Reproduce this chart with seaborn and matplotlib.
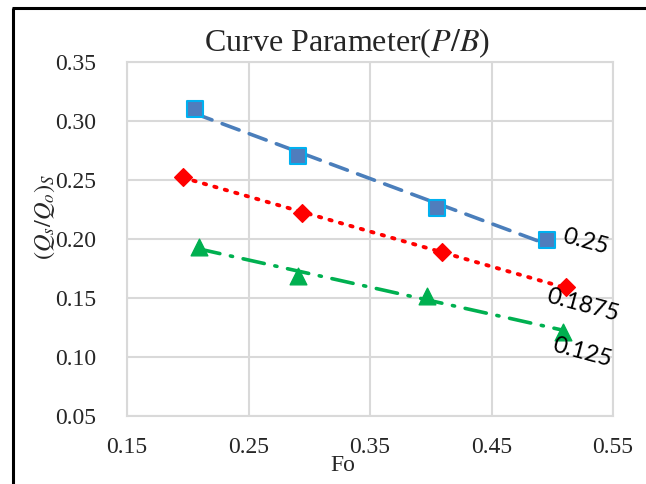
import numpy as np
import pandas as pd
import matplotlib
matplotlib.use("Agg")
import matplotlib.pyplot as plt
import seaborn as sns
from matplotlib.lines import Line2D

# Curve parameter P/B for each series
series_labels = ["0.25", "0.1875", "0.125"]

# Fo values and (Qs/Qo)_S values for each series
fo_025 = [0.206, 0.291, 0.405, 0.496]
q_025 = [0.310, 0.270, 0.2265, 0.199]

fo_01875 = [0.196, 0.294, 0.409, 0.511]
q_01875 = [0.2528, 0.2218, 0.1887, 0.159]

fo_0125 = [0.209, 0.291, 0.397, 0.509]
q_0125 = [0.193, 0.169, 0.152, 0.1214]

x_ticks = [0.15, 0.25, 0.35, 0.45, 0.55]
y_ticks = [0.05, 0.10, 0.15, 0.20, 0.25, 0.30, 0.35]

sns.set_style("white")
plt.rcParams["font.family"] = ["Liberation Serif", "DejaVu Serif"]
plt.rcParams["mathtext.fontset"] = "stix"

frames = []
for lab, xs, ys in [("0.25", fo_025, q_025),
                    ("0.1875", fo_01875, q_01875),
                    ("0.125", fo_0125, q_0125)]:
    frames.append(pd.DataFrame({"Fo": xs, "Q": ys, "PB": lab}))
df = pd.concat(frames, ignore_index=True)

styles = {
    "0.25": dict(color="#4a7ebb", marker="s", mfc="#4f7dbd", mec="#00b0f0",
                 ls=(0, (5, 3)), lw=2.6, ms=12, mew=1.5),
    "0.1875": dict(color="#ff0000", marker="D", mfc="#ff0000", mec="#ff0000",
                   ls=(0, (0.6, 2.2)), lw=2.8, ms=9, mew=1.0),
    "0.125": dict(color="#00b050", marker="^", mfc="#00b050", mec="#00b050",
                  ls=(0, (6, 3, 0.6, 3)), lw=2.6, ms=12, mew=1.0),
}
text_pos = {"0.25": (0.527, 0.198), "0.1875": (0.525, 0.144), "0.125": (0.5245, 0.1035)}

fig = plt.figure(figsize=(6.46, 4.84), dpi=100)
ax = fig.add_axes([0.1966, 0.1405, 0.7524, 0.7315])

for lab in series_labels:
    sub = df[df["PB"] == lab]
    st = styles[lab]
    # linear trend line across the data range
    k, b = np.polyfit(sub["Fo"], sub["Q"], 1)
    xs = np.array([sub["Fo"].min(), sub["Fo"].max()])
    trend = pd.DataFrame({"Fo": xs, "Q": k * xs + b})
    sns.lineplot(data=trend, x="Fo", y="Q", ax=ax, color=st["color"],
                 linewidth=st["lw"], linestyle=st["ls"], zorder=2)
    ax.lines[-1].set_dash_capstyle("round")
    sns.scatterplot(data=sub, x="Fo", y="Q", ax=ax, marker=st["marker"],
                    s=st["ms"] ** 2, color=st["mfc"], edgecolor=st["mec"],
                    linewidth=st["mew"], zorder=3)
    tx, ty = text_pos[lab]
    ax.text(tx, ty, lab, rotation=-15, ha="center", va="center",
            fontsize=17, color="black", family=["Lato", "DejaVu Sans"],
            zorder=4, clip_on=False)

ax.set_xlim(0.15, 0.55)
ax.set_ylim(0.05, 0.35)
ax.set_xticks(x_ticks)
ax.set_yticks(y_ticks)
ax.set_xticklabels([f"{v:.2f}" for v in x_ticks])
ax.set_yticklabels([f"{v:.2f}" for v in y_ticks])
ax.tick_params(length=0, labelsize=17)
ax.tick_params(axis="x", pad=15)
ax.tick_params(axis="y", pad=22)
ax.grid(True, color="#d9d9d9", linewidth=1.5)
ax.set_axisbelow(True)
for sp in ax.spines.values():
    sp.set_color("#d9d9d9")
    sp.set_linewidth(1.5)

ax.set_xlabel("Fo", fontsize=17)
ax.xaxis.label.set_va("center")
ax.xaxis.set_label_coords(0.444, -0.141)
ax.set_ylabel(r"$(Q_s/Q_o)_S$", fontsize=17.5)
ax.yaxis.label.set_va("center")
ax.yaxis.set_label_coords(-0.17, 0.562)
ax.set_title(r"Curve Parameter($P/B$)", fontsize=23, x=0.453, pad=8)

# outer frame: left and top edges
x0 = 13 / 646
y0 = 1 - 8 / 484
fig.add_artist(Line2D([x0, x0], [-0.01, y0], transform=fig.transFigure,
                      color="black", linewidth=2.2, solid_capstyle="butt"))
fig.add_artist(Line2D([x0 - 1.1 / 646, 1.01], [y0, y0], transform=fig.transFigure,
                      color="black", linewidth=2.2, solid_capstyle="butt"))

fig.savefig("out.png", dpi=100)
